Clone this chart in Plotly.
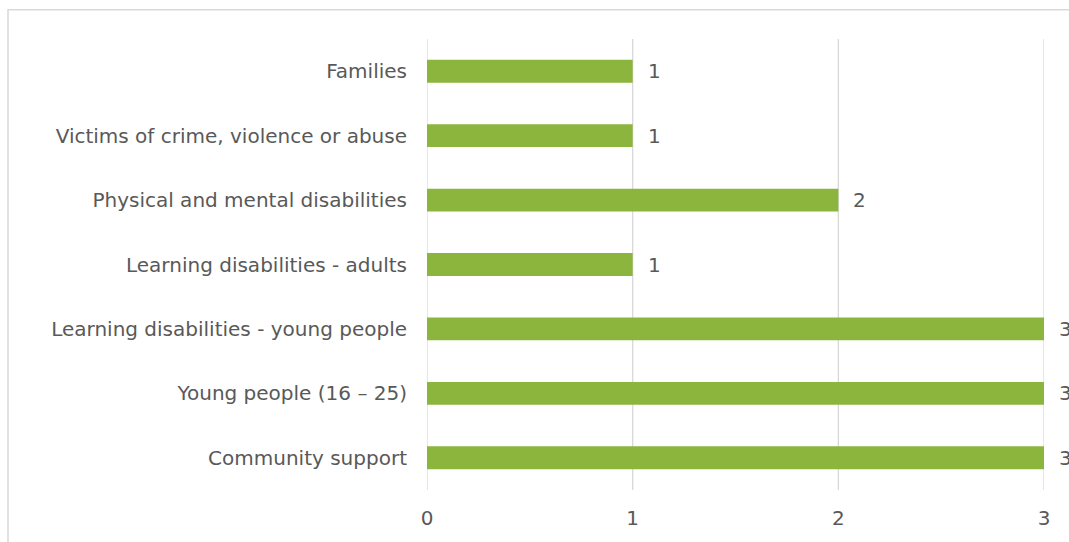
import plotly.graph_objects as go

categories = [
    "Community support",
    "Young people (16 \u2013 25)",
    "Learning disabilities - young people",
    "Learning disabilities - adults",
    "Physical and mental disabilities",
    "Victims of crime, violence or abuse",
    "Families",
]
values = [3, 3, 3, 1, 2, 1, 1]
x_ticks = [0, 1, 2, 3]

W, H = 1069, 542
ml, mr, mt, mb = 427, 25, 39, 49
pw = W - ml - mr
ph = H - mt - mb

font = dict(family="DejaVu Sans, Verdana, sans-serif", size=20, color="#595959")

fig = go.Figure()

# vertical gridlines at every tick (drawn below bars)
for t in x_ticks:
    fig.add_shape(
        type="line", xref="x", yref="paper", x0=t, x1=t, y0=0, y1=1,
        line=dict(color="#d9d9d9", width=1.3), layer="below",
    )

fig.add_trace(
    go.Bar(
        x=values,
        y=categories,
        orientation="h",
        marker=dict(color="#8cb53d", line=dict(width=0)),
        hoverinfo="skip",
        cliponaxis=False,
    )
)

for c, v in zip(categories, values):
    fig.add_annotation(
        x=v, y=c, xref="x", yref="y", text=str(v), showarrow=False,
        xanchor="left", xshift=13, font=font,
    )

# chart border (Excel chart area)
fig.add_shape(
    type="rect", xref="paper", yref="paper",
    x0=(8 - ml) / pw, x1=(W + 20 - ml) / pw,
    y0=(H - mb - (H + 20)) / ph, y1=(H - mb - 9.5) / ph,
    line=dict(color="#d9d9d9", width=1.5), fillcolor="rgba(0,0,0,0)", layer="below",
)

fig.update_layout(
    width=W, height=H,
    margin=dict(l=ml, r=mr, t=mt, b=mb, pad=0),
    paper_bgcolor="white", plot_bgcolor="white",
    font=font,
    bargap=0.645,
    showlegend=False,
    xaxis=dict(
        range=[0, 3], tickvals=x_ticks, ticktext=[str(t) for t in x_ticks],
        showgrid=False, zeroline=False, showline=False, ticks="", ticklabelstandoff=14,
        fixedrange=True,
    ),
    yaxis=dict(
        categoryorder="array", categoryarray=categories,
        showgrid=False, zeroline=False, showline=False, ticks="",
        ticklabelstandoff=19, fixedrange=True,
    ),
)

fig.write_html("out.html", config={"displayModeBar": False})
